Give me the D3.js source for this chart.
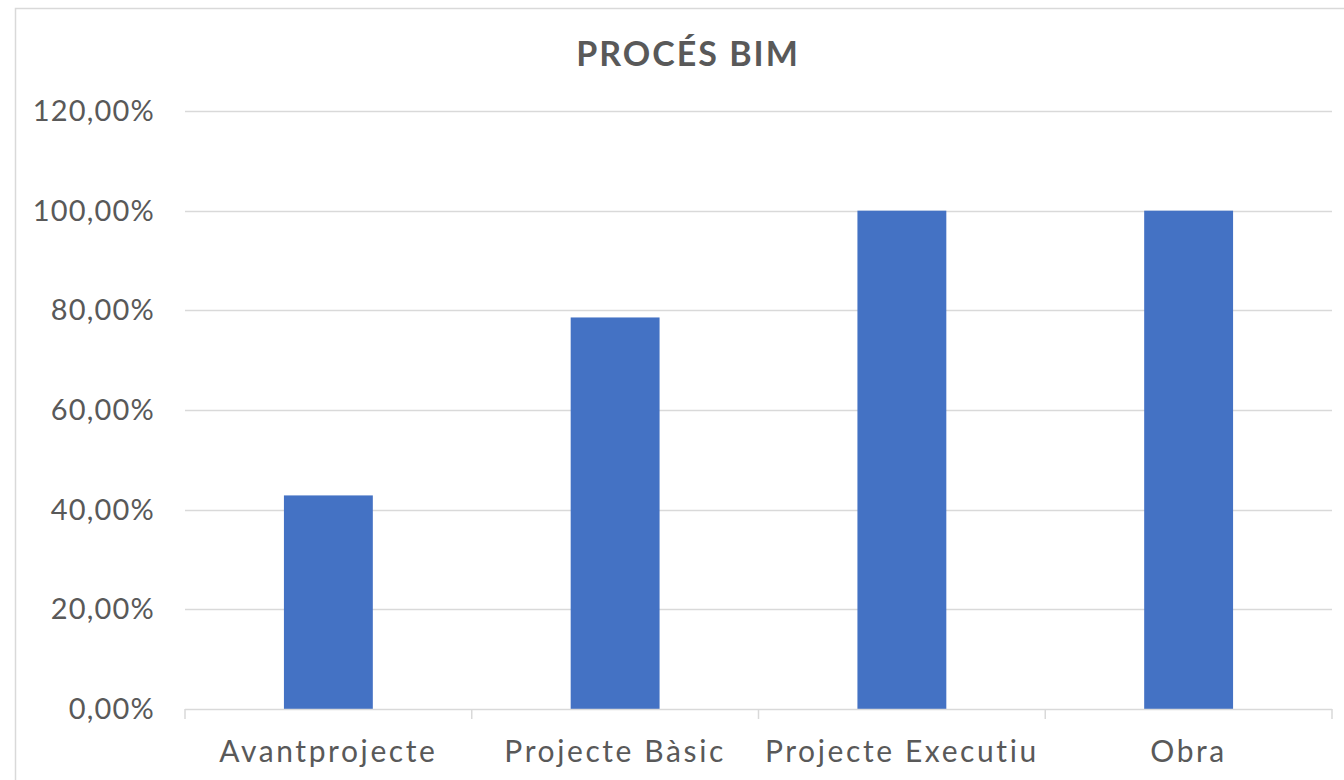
<!DOCTYPE html>
<html>
<head>
<meta charset="utf-8">
<script src="https://cdn.jsdelivr.net/npm/d3@7"></script>
<style>
  body { margin: 0; background: #fff; }
  svg { display: block; }
</style>
</head>
<body>
<div id="vis"></div>
<script>
// Datos
const categories = ["Avantprojecte", "Projecte Bàsic", "Projecte Executiu", "Obra"];
const values = [0.4286, 0.7857, 1.0, 1.0];
const yTicks = [0, 0.2, 0.4, 0.6, 0.8, 1.0, 1.2];
const title = "PROCÉS BIM";

const WIDTH = 1344, HEIGHT = 780;
const margin = { top: 111, right: 12, bottom: 71, left: 185 };
const FONT = "Lato, 'DejaVu Sans', sans-serif";

const svg = d3.select("#vis").append("svg")
  .attr("width", WIDTH)
  .attr("height", HEIGHT);

// Marco del gráfico
svg.append("rect")
  .attr("x", 15.5).attr("y", 8.5)
  .attr("width", WIDTH).attr("height", HEIGHT)
  .attr("fill", "none")
  .attr("stroke", "#d9d9d9")
  .attr("stroke-width", 1.5);

const x = d3.scaleBand()
  .domain(categories)
  .range([margin.left, WIDTH - margin.right])
  .paddingInner(0.69)
  .paddingOuter(0.345);

const y = d3.scaleLinear()
  .domain([0, 1.2])
  .range([HEIGHT - margin.bottom, margin.top]);

const fmt = v => (v * 100).toFixed(2).replace(".", ",") + "%";

// Líneas de cuadrícula
svg.append("g")
  .selectAll("line")
  .data(yTicks.filter(d => d > 0))
  .join("line")
  .attr("x1", margin.left)
  .attr("x2", WIDTH - margin.right)
  .attr("y1", d => Math.round(y(d)) + 0.5)
  .attr("y2", d => Math.round(y(d)) + 0.5)
  .attr("stroke", "#d9d9d9")
  .attr("stroke-width", 1.5);

// Etiquetas eje Y
svg.append("g")
  .selectAll("text")
  .data(yTicks)
  .join("text")
  .attr("x", 155)
  .attr("y", d => y(d))
  .attr("dy", "0.35em")
  .attr("text-anchor", "end")
  .attr("font-family", FONT)
  .attr("font-size", 29)
  .attr("letter-spacing", 1.2)
  .attr("fill", "#595959")
  .text(fmt);

// Barras
svg.append("g")
  .selectAll("rect")
  .data(values)
  .join("rect")
  .attr("x", (d, i) => x(categories[i]))
  .attr("y", d => y(d))
  .attr("width", x.bandwidth())
  .attr("height", d => y(0) - y(d))
  .attr("fill", "#4472c4");

// Eje X
const xAxis = svg.append("g");
const step = x.step();
xAxis.append("line")
  .attr("x1", margin.left).attr("x2", WIDTH - margin.right)
  .attr("y1", y(0) + 0.5).attr("y2", y(0) + 0.5)
  .attr("stroke", "#d9d9d9")
  .attr("stroke-width", 1.5);

xAxis.selectAll(".tick")
  .data(d3.range(categories.length + 1))
  .join("line")
  .attr("x1", i => margin.left + i * step)
  .attr("x2", i => margin.left + i * step)
  .attr("y1", y(0))
  .attr("y2", y(0) + 10)
  .attr("stroke", "#d9d9d9")
  .attr("stroke-width", 1.5);

xAxis.selectAll("text")
  .data(categories)
  .join("text")
  .attr("x", d => x(d) + x.bandwidth() / 2)
  .attr("y", 762)
  .attr("text-anchor", "middle")
  .attr("font-family", FONT)
  .attr("font-size", 30)
  .attr("letter-spacing", 2.6)
  .attr("fill", "#595959")
  .text(d => d);

// Título
svg.append("text")
  .attr("x", 688)
  .attr("y", 66)
  .attr("text-anchor", "middle")
  .attr("font-family", FONT)
  .attr("font-size", 34)
  .attr("font-weight", "bold")
  .attr("letter-spacing", 2)
  .attr("fill", "#595959")
  .text(title);
</script>
</body>
</html>
